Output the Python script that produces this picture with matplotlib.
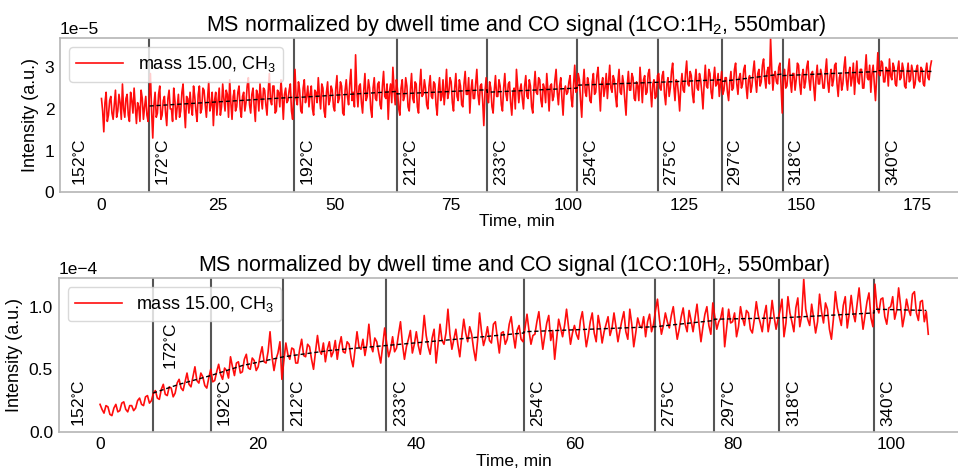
import numpy as np
import matplotlib
matplotlib.use("Agg")
import matplotlib.pyplot as plt
import matplotlib.transforms as mtransforms

plt.rcParams["font.family"] = ["Liberation Sans", "DejaVu Sans"]
plt.rcParams["mathtext.fontset"] = "dejavusans"
plt.rcParams["mathtext.default"] = "regular"

# --- data: 1CO:1H2 run (signal in units of 1e-5, sampled every 0.25 min) ---
top_step = 0.25
top_signal = [
    2.25, 1.95, 1.45, 2.15, 2.40, 1.70, 1.85, 2.20, 2.30, 1.90, 1.75, 2.10, 2.45, 1.80, 1.95, 2.35, 2.15, 1.75, 2.60, 2.00,
    1.80, 2.25, 2.35, 1.85, 1.70, 2.40, 2.20, 1.90, 2.50, 2.05, 1.65, 2.15, 2.05, 1.70, 2.45, 2.25, 1.75, 2.05, 2.30, 1.85,
    1.70, 2.30, 2.85, 1.95, 1.30, 2.10, 2.40, 1.80, 1.90, 2.35, 2.55, 1.75, 1.85, 2.20, 2.30, 1.90, 1.60, 2.25, 2.45, 2.00,
    2.00, 1.70, 2.50, 2.20, 1.75, 2.05, 2.35, 1.80, 1.95, 2.40, 2.60, 2.00, 1.55, 2.30, 2.25, 1.90, 2.40, 2.05, 1.85, 2.55,
    2.30, 1.95, 1.70, 2.35, 2.55, 1.90, 2.00, 2.50, 2.45, 2.10, 1.80, 2.25, 2.65, 1.95, 2.10, 2.40, 1.60, 2.20, 2.40, 1.85,
    2.20, 2.50, 1.85, 2.05, 2.60, 2.25, 1.95, 2.45, 2.35, 1.80, 2.70, 2.15, 1.75, 2.30, 2.45, 1.95, 2.05, 2.40, 2.55, 2.00,
    1.80, 2.30, 2.40, 1.95, 2.15, 2.55, 2.75, 2.10, 1.90, 2.35, 2.50, 2.05, 1.70, 2.45, 2.35, 1.95, 2.60, 2.25, 2.00, 2.50,
    2.45, 2.10, 1.85, 2.40, 2.85, 2.20, 2.10, 2.55, 2.55, 1.90, 1.95, 2.45, 2.40, 2.05, 2.70, 2.30, 1.75, 2.35, 2.50, 2.15,
    2.20, 2.45, 2.60, 1.95, 1.75, 2.40, 2.95, 2.25, 2.10, 2.65, 2.45, 1.95, 1.90, 2.50, 2.70, 2.15, 2.30, 2.55, 2.05, 2.35,
    2.55, 2.00, 1.85, 2.45, 2.40, 2.15, 2.75, 2.30, 2.00, 2.60, 2.50, 1.95, 1.80, 2.40, 2.65, 2.10, 2.20, 2.55, 2.45, 2.05,
    1.95, 2.50, 2.80, 2.15, 2.25, 2.65, 2.55, 1.90, 1.85, 2.45, 2.70, 2.30, 2.10, 2.60, 2.95, 2.20, 2.40, 2.05, 3.30, 2.45,
    2.05, 2.55, 2.60, 2.15, 1.90, 2.45, 2.85, 2.20, 2.30, 2.70, 2.50, 2.00, 1.80, 2.50, 2.75, 2.25, 2.20, 2.60, 2.65, 2.10,
    2.00, 2.55, 2.90, 2.30, 2.25, 2.60, 1.75, 2.40, 2.60, 2.15, 3.00, 2.45, 2.10, 2.70, 2.45, 2.00, 1.85, 2.50, 2.70, 2.20,
    2.30, 2.75, 2.55, 2.05, 1.95, 2.45, 2.85, 2.25, 2.15, 2.65, 2.60, 2.05, 1.90, 2.55, 2.95, 2.30, 2.35, 2.70, 2.50, 2.10,
    2.00, 2.55, 2.80, 2.30, 2.25, 2.65, 2.60, 2.10, 1.85, 2.45, 2.75, 2.20, 2.30, 2.70, 2.10, 2.45, 2.95, 2.25, 2.40, 2.75,
    2.65, 2.15, 1.95, 2.50, 2.85, 2.30, 2.20, 2.70, 2.55, 2.10, 2.05, 2.60, 2.90, 2.35, 2.35, 2.75, 1.90, 2.45, 2.70, 2.25,
    2.25, 2.60, 2.95, 2.35, 2.10, 2.55, 2.60, 2.20, 1.60, 2.40, 2.75, 2.25, 2.15, 2.65, 2.50, 2.05, 1.90, 2.45, 2.80, 2.30,
    2.30, 2.70, 2.55, 2.10, 1.95, 2.50, 2.85, 2.35, 2.20, 2.60, 2.65, 2.15, 1.85, 2.40, 2.50, 2.00, 2.95, 2.55, 2.15, 2.45,
    2.60, 2.25, 2.00, 2.55, 2.80, 2.30, 2.25, 2.70, 2.55, 2.05, 1.90, 2.50, 2.90, 2.40, 2.35, 2.75, 2.70, 2.20, 2.05, 2.60,
    2.50, 2.15, 2.85, 2.45, 1.95, 2.55, 2.60, 2.20, 2.30, 2.70, 2.95, 2.40, 2.10, 2.55, 2.75, 2.25, 1.85, 2.45, 2.55, 2.35,
    2.40, 2.65, 2.80, 2.25, 2.05, 2.60, 3.05, 2.40, 2.45, 2.85, 2.70, 2.20, 1.80, 2.55, 2.95, 2.40, 2.30, 2.75, 2.60, 2.20,
    2.15, 2.65, 2.85, 2.35, 2.40, 2.80, 3.00, 2.45, 1.95, 2.60, 2.75, 2.30, 2.50, 2.85, 2.25, 2.65, 3.05, 2.50, 2.40, 2.80,
    2.70, 2.30, 2.05, 2.65, 2.95, 2.40, 2.35, 2.80, 2.60, 2.20, 1.85, 2.55, 2.90, 2.45, 2.45, 2.85, 2.75, 2.25, 2.20, 2.65,
    2.55, 2.20, 3.00, 2.60, 2.15, 2.70, 2.80, 2.35, 2.40, 2.85, 2.95, 2.45, 2.05, 2.60, 2.70, 2.25, 2.30, 2.80, 2.85, 2.50,
    2.45, 2.80, 2.90, 2.35, 2.10, 2.60, 2.75, 2.30, 2.50, 2.90, 3.10, 2.55, 2.20, 2.70, 2.65, 2.35, 1.95, 2.55, 2.85, 2.45,
    2.40, 2.85, 3.15, 2.60, 2.55, 2.90, 2.80, 2.35, 2.15, 2.65, 2.95, 2.50, 2.45, 2.85, 2.70, 2.40, 2.00, 2.60, 3.05, 2.55,
    2.50, 2.95, 2.85, 2.40, 2.25, 2.70, 3.00, 2.55, 2.60, 2.85, 2.30, 2.60, 2.90, 2.35, 2.45, 2.75, 2.75, 2.40, 2.20, 2.65,
    2.90, 2.45, 2.50, 2.95, 3.10, 2.60, 2.35, 2.75, 2.85, 2.50, 2.60, 2.95, 3.05, 2.55, 2.25, 2.70, 2.80, 2.40, 2.55, 2.90,
    3.15, 2.70, 2.40, 2.85, 2.95, 2.55, 2.65, 3.05, 3.20, 2.75, 2.50, 2.90, 3.00, 2.60, 3.70, 2.95, 2.45, 2.80, 2.90, 2.65,
    2.60, 3.00, 3.10, 2.55, 1.90, 2.70, 2.95, 2.50, 2.55, 2.90, 3.20, 2.65, 2.40, 2.85, 2.85, 2.45, 2.70, 3.10, 3.05, 2.60,
    2.35, 2.80, 2.95, 2.50, 2.65, 3.00, 3.15, 2.70, 2.45, 2.85, 2.90, 2.55, 2.20, 2.75, 3.05, 2.60, 2.60, 2.95, 2.80, 2.50,
    2.50, 2.90, 3.20, 2.65, 2.40, 2.80, 2.95, 2.55, 2.70, 3.05, 3.10, 2.60, 2.30, 2.75, 2.85, 2.45, 2.60, 3.00, 3.25, 2.70,
    2.45, 2.85, 3.00, 2.55, 2.75, 3.10, 2.35, 2.80, 3.15, 2.65, 2.60, 2.95, 2.95, 2.50, 2.50, 2.90, 3.30, 2.75, 2.70, 3.05,
    2.40, 2.85, 3.05, 2.60, 2.20, 2.75, 3.35, 2.85, 2.80, 3.15, 3.10, 2.65, 2.65, 3.00, 2.95, 2.55, 3.20, 2.80, 2.70, 3.10,
    3.00, 2.60, 2.55, 2.95, 3.15, 2.70, 2.75, 3.10, 2.95, 2.55, 2.50, 2.85, 3.10, 2.65, 2.70, 3.05, 2.90, 2.50, 2.60, 2.95,
    3.05, 2.70, 2.65, 3.00, 2.95, 2.60, 2.55, 2.90, 3.10, 2.75, 2.70, 3.00, 3.15,
]
top_switch = [10.3, 41.3, 63.4, 82.7, 102.0, 119.3, 133.0, 146.1, 166.8]
top_trend_t = [10.3, 41.3, 41.3, 63.4, 63.4, 82.7, 82.7, 102.0, 102.0, 119.3,
               119.3, 133.0, 133.0, 146.1, 146.1, 166.8, 166.8, 178.0]
top_trend_v = [2.07, 2.28, 2.27, 2.42, 2.36, 2.46, 2.40, 2.50, 2.57, 2.64,
               2.64, 2.70, 2.66, 2.84, 2.80, 2.90, 2.92, 2.90]

# --- data: 1CO:10H2 run (signal in units of 1e-4, sampled every 0.25 min) ---
bot_step = 0.25
bot_signal = [
    0.22, 0.18, 0.15, 0.21, 0.20, 0.14, 0.13, 0.19, 0.22, 0.16, 0.17, 0.23, 0.24, 0.18, 0.16, 0.21, 0.21, 0.17, 0.19, 0.25,
    0.27, 0.22, 0.21, 0.28, 0.29, 0.23, 0.25, 0.31, 0.33, 0.27, 0.26, 0.34, 0.38, 0.30, 0.29, 0.36, 0.35, 0.28, 0.31, 0.39,
    0.42, 0.35, 0.33, 0.40, 0.47, 0.38, 0.36, 0.44, 0.52, 0.41, 0.39, 0.47, 0.44, 0.37, 0.35, 0.43, 0.50, 0.40, 0.41, 0.48,
    0.54, 0.46, 0.42, 0.51, 0.49, 0.43, 0.60, 0.52, 0.45, 0.55, 0.56, 0.47, 0.48, 0.58, 0.62, 0.51, 0.50, 0.59, 0.57, 0.49,
    0.52, 0.61, 0.68, 0.56, 0.55, 0.64, 0.80, 0.60, 0.49, 0.58, 0.63, 0.72, 0.42, 0.57, 0.71, 0.62, 0.58, 0.67, 0.66, 0.55,
    0.55, 0.66, 0.74, 0.61, 0.60, 0.70, 0.68, 0.58, 0.50, 0.64, 0.77, 0.65, 0.62, 0.71, 0.56, 0.66, 0.72, 0.60, 0.64, 0.73,
    0.58, 0.69, 0.76, 0.64, 0.63, 0.72, 0.70, 0.59, 0.52, 0.66, 0.80, 0.68, 0.66, 0.74, 0.61, 0.70, 0.86, 0.69, 0.64, 0.75,
    0.72, 0.63, 0.55, 0.69, 0.83, 0.71, 0.60, 0.66, 0.76, 0.64, 0.67, 0.78, 0.88, 0.70, 0.58, 0.68, 0.74, 0.81, 0.63, 0.70,
    0.80, 0.69, 0.62, 0.74, 0.93, 0.77, 0.68, 0.62, 0.75, 0.82, 0.55, 0.70, 0.86, 0.73, 0.70, 0.79, 0.98, 0.78, 0.66, 0.74,
    0.82, 0.70, 0.60, 0.76, 0.90, 0.79, 0.72, 0.84, 0.78, 0.66, 0.57, 0.73, 0.95, 0.80, 0.69, 0.75, 0.84, 0.73, 0.71, 0.86,
    0.88, 0.75, 0.63, 0.79, 0.80, 0.70, 0.74, 0.86, 0.92, 0.78, 0.67, 0.81, 0.85, 0.74, 0.72, 0.83, 0.94, 0.81, 0.70, 0.77,
    0.78, 0.88, 0.96, 0.80, 0.66, 0.77, 0.87, 0.93, 0.73, 0.81, 0.58, 0.74, 0.90, 0.83, 0.76, 0.85, 0.98, 0.84, 0.70, 0.79,
    0.85, 0.78, 0.74, 0.89, 0.96, 0.82, 0.68, 0.77, 0.88, 0.95, 0.79, 0.72, 0.93, 0.84, 0.71, 0.80, 0.86, 0.92, 0.77, 0.83,
    0.95, 0.84, 0.72, 0.81, 0.89, 0.96, 0.80, 0.74, 0.98, 0.86, 0.68, 0.79, 0.91, 0.85, 0.83, 0.92, 0.76, 0.88, 0.94, 0.80,
    0.86, 0.97, 1.06, 0.90, 0.78, 0.85, 0.95, 0.88, 0.83, 0.93, 1.00, 0.86, 0.74, 0.82, 0.92, 0.99, 0.86, 0.80, 0.97, 0.89,
    0.80, 0.91, 1.02, 0.86, 0.72, 0.84, 0.94, 1.00, 0.85, 0.78, 1.03, 0.92, 0.82, 0.88, 0.91, 0.99, 0.68, 0.83, 0.98, 0.87,
    0.88, 0.95, 0.76, 0.84, 1.00, 0.91, 0.85, 0.97, 0.95, 0.82, 0.79, 0.90, 1.04, 0.93, 0.87, 0.80, 0.93, 1.01, 0.80, 0.89,
    1.05, 0.92, 0.82, 0.90, 0.97, 1.06, 0.76, 0.87, 1.08, 0.95, 0.88, 0.80, 0.99, 1.07, 0.84, 0.93, 1.22, 0.98, 0.90, 0.85,
    1.02, 0.91, 0.79, 0.88, 1.10, 0.96, 0.87, 1.03, 0.98, 0.82, 0.74, 0.90, 1.12, 0.99, 0.92, 0.85, 1.01, 1.08, 0.83, 0.94,
    1.09, 0.95, 0.88, 1.02, 1.15, 0.97, 0.82, 0.93, 1.04, 1.11, 0.91, 0.84, 1.18, 1.00, 0.95, 1.06, 1.07, 0.92, 0.86, 0.99,
    1.00, 1.08, 0.90, 0.97, 1.15, 1.01, 0.84, 0.93, 1.06, 0.98, 0.93, 1.10, 1.12, 0.95, 0.89, 1.04, 1.05, 0.88, 0.96, 0.78,
]
bot_switch = [6.7, 14.0, 23.2, 36.2, 53.6, 70.2, 77.7, 85.9, 97.9]
bot_trend_t = [6.7, 10.0, 14.0, 18.0, 23.2, 29.0, 36.2, 45.0, 53.6, 53.6, 70.2,
               70.2, 77.7, 77.7, 85.9, 85.9, 97.9, 97.9, 104.5]
bot_trend_v = [0.31, 0.38, 0.45, 0.53, 0.60, 0.65, 0.69, 0.74, 0.79, 0.80, 0.84,
               0.84, 0.89, 0.90, 0.91, 0.91, 0.95, 0.98, 0.97]

temps = ["152", "172", "192", "212", "233", "254", "275", "297", "318", "340"]
top_label_x = [-6.4, 11.5, 42.5, 64.6, 83.9, 103.2, 120.5, 134.2, 147.3, 168.0]
bot_label_x = [-3.7, 7.9, 14.8, 24.0, 37.0, 54.4, 71.0, 78.5, 86.7, 98.7]
bot_label_y = [0.03, 0.40, 0.03, 0.03, 0.03, 0.03, 0.03, 0.03, 0.03, 0.03]

FS = 12.5


def draw_panel(ax, signal, step, scale, switch, trend_t, trend_v,
               label_x, label_y, title, xticks, yticks, ylim, fmt, exp):
    t = np.arange(len(signal)) * step
    ax.plot(t, np.array(signal) * scale, color="red", lw=1.2, alpha=0.95,
            label="mass 15.00, CH$_3$", zorder=2)
    ax.plot(trend_t, np.array(trend_v) * scale, color="black", lw=1.0,
            ls=(0, (3, 2)), zorder=3)
    for x in switch:
        ax.axvline(x, color="#555555", lw=1.5, zorder=1)
    trans = mtransforms.blended_transform_factory(ax.transData, ax.transAxes)
    for x, y, temp in zip(label_x, label_y, temps):
        ax.text(x, y, temp + r"$^{\circ}$C", rotation=90, ha="left",
                va="bottom", transform=trans, fontsize=FS)
    ax.set_ylim(ylim[0] * scale, ylim[1] * scale)
    ax.set_xticks(xticks)
    ax.set_yticks([v * scale for v in yticks])
    ax.set_yticklabels([fmt.format(v) for v in yticks])
    ax.text(0, 1.005, exp, transform=ax.transAxes, ha="left", va="bottom",
            fontsize=FS)
    ax.set_title(title, fontsize=15.5, pad=5)
    ax.set_xlabel("Time, min", fontsize=FS, labelpad=1)
    ax.set_ylabel("Intensity (a.u.)", fontsize=13, labelpad=4)
    ax.tick_params(length=0, labelsize=FS, pad=4)
    for sp in ax.spines.values():
        sp.set_color("#b5b5b5")
        sp.set_linewidth(1.2)
    ax.legend(loc="upper left", fontsize=13, framealpha=0.8,
              edgecolor="#d0d0d0", handlelength=2.6, borderaxespad=0.5)


fig = plt.figure(figsize=(9.58, 4.71), dpi=100)
ax1 = fig.add_axes([0.0626, 0.592, 0.953, 0.327])
ax2 = fig.add_axes([0.0612, 0.083, 0.951, 0.327])

draw_panel(ax1, top_signal, top_step, 1e-5, top_switch, top_trend_t, top_trend_v,
           top_label_x, [0.04] * 10,
           "MS normalized by dwell time and CO signal (1CO:1H$_2$, 550mbar)",
           [0, 25, 50, 75, 100, 125, 150, 175], [0, 1, 2, 3], (0, 3.7), "{:g}",
           "1e\u22125")
draw_panel(ax2, bot_signal, bot_step, 1e-4, bot_switch, bot_trend_t, bot_trend_v,
           bot_label_x, bot_label_y,
           "MS normalized by dwell time and CO signal (1CO:10H$_2$, 550mbar)",
           [0, 20, 40, 60, 80, 100], [0.0, 0.5, 1.0], (0, 1.23), "{:.1f}",
           "1e\u22124")

fig.savefig("out.png", dpi=100)
